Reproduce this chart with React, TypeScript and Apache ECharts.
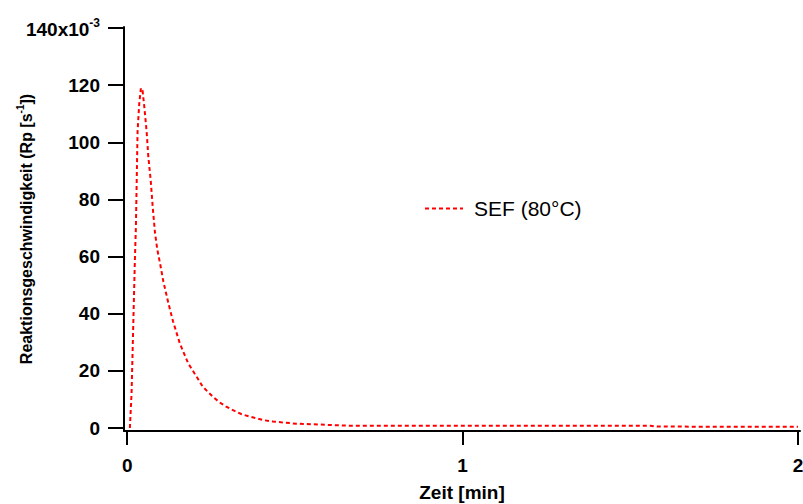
import React, { useEffect, useRef } from "react";
import * as echarts from "echarts";

// Zeit in Minuten
const timeMin = [
  0.008, 0.013, 0.018, 0.023, 0.026, 0.031, 0.036, 0.041, 0.046, 0.051,
  0.058, 0.063, 0.07, 0.076, 0.083, 0.09, 0.098, 0.108, 0.123, 0.137,
  0.157, 0.182, 0.21, 0.225, 0.24, 0.255, 0.275, 0.295, 0.32, 0.34,
  0.362, 0.385, 0.409, 0.434, 0.459, 0.504, 0.554, 0.604, 0.663, 0.8,
  1.0, 1.2, 1.4, 1.56, 1.58, 1.8, 2.0,
];

// Reaktionsgeschwindigkeit Rp in s^-1 (SEF, 80 °C)
const rateSEF80 = [
  0.0, 0.012, 0.0355, 0.059, 0.0705, 0.104, 0.1136, 0.119, 0.118, 0.1125,
  0.1037, 0.095, 0.0868, 0.0775, 0.0682, 0.0623, 0.0576, 0.0512, 0.0436, 0.0372,
  0.0296, 0.0226, 0.0174, 0.0145, 0.0127, 0.011, 0.009, 0.0075, 0.006, 0.0049,
  0.0041, 0.0034, 0.0027, 0.0023, 0.002, 0.0015, 0.0013, 0.00105, 0.0008, 0.0008,
  0.0008, 0.0008, 0.0008, 0.0008, 0.0005, 0.00045, 0.0004,
];

const xTicks = [0, 1, 2];
const yTicks = [0, 0.02, 0.04, 0.06, 0.08, 0.1, 0.12, 0.14];

const seriesName = "SEF (80°C)";
const FONT = '"Liberation Sans", Arial, Helvetica, sans-serif';

export default function App() {
  const ref = useRef<HTMLDivElement>(null);

  useEffect(() => {
    if (!ref.current) return;
    const chart = echarts.init(ref.current, null, { renderer: "svg" });

    const data = timeMin.map((t, i) => [t, rateSEF80[i]]);

    chart.setOption({
      animation: false,
      backgroundColor: "#ffffff",
      grid: {
        left: 124,
        right: 3,
        top: 27,
        bottom: 73,
        containLabel: false,
        outerBoundsMode: "none",
      },
      legend: {
        left: 424,
        top: 198,
        padding: 0,
        itemWidth: 38,
        itemHeight: 14,
        data: [seriesName],
        // only the dashed line sample, no marker
        itemStyle: { opacity: 0, borderWidth: 0 },
        textStyle: {
          fontFamily: FONT,
          fontSize: 21,
          color: "#000",
          padding: [0, 0, 0, 6],
        },
      },
      xAxis: {
        type: "value",
        min: -0.0095,
        max: 2.006,
        name: "Zeit [min]",
        nameLocation: "middle",
        nameGap: 52,
        nameMoveOverlap: false,
        nameTextStyle: {
          fontFamily: FONT,
          fontSize: 19,
          fontWeight: "bold",
          color: "#000",
        },
        splitLine: { show: false },
        axisLine: { onZero: false, lineStyle: { color: "#000", width: 2 } },
        axisTick: {
          show: true,
          length: 14,
          customValues: xTicks,
          lineStyle: { color: "#000", width: 2 },
        },
        axisLabel: {
          customValues: xTicks,
          margin: 25,
          fontFamily: FONT,
          fontSize: 19,
          fontWeight: "bold",
          color: "#000",
          formatter: (v: number) => String(Math.round(v)),
        },
      },
      yAxis: {
        type: "value",
        min: -0.00105,
        max: 0.14035,
        name: "{b|Reaktionsgeschwindigkeit (Rp [s}{sup|-1}{b|])}",
        nameLocation: "middle",
        nameGap: 90,
        nameMoveOverlap: false,
        nameTextStyle: {
          fontFamily: FONT,
          fontSize: 16,
          fontWeight: "bold",
          color: "#000",
          rich: {
            b: {
              fontFamily: FONT,
              fontSize: 16,
              fontWeight: "bold",
              color: "#000",
              verticalAlign: "bottom",
            },
            sup: {
              fontFamily: FONT,
              fontSize: 10,
              fontWeight: "bold",
              color: "#000",
              verticalAlign: "bottom",
              padding: [0, 0, 9, 0],
            },
          },
        },
        splitLine: { show: false },
        axisLine: { onZero: false, lineStyle: { color: "#000", width: 2 } },
        axisTick: {
          show: true,
          length: 16,
          customValues: yTicks,
          lineStyle: { color: "#000", width: 2 },
        },
        axisLabel: {
          customValues: yTicks,
          margin: 24,
          color: "#000",
          formatter: (v: number) => {
            const n = Math.round(v * 1000);
            return n === 140 ? "{b|140x10}{sup|-3}" : "{b|" + n + "}";
          },
          rich: {
            b: {
              fontFamily: FONT,
              fontSize: 19,
              fontWeight: "bold",
              color: "#000",
              verticalAlign: "bottom",
            },
            sup: {
              fontFamily: FONT,
              fontSize: 12,
              fontWeight: "bold",
              color: "#000",
              verticalAlign: "bottom",
              padding: [0, 0, 10, 0],
            },
          },
        },
      },
      series: [
        {
          name: seriesName,
          type: "line",
          data,
          symbol: "none",
          smooth: false,
          lineStyle: { color: "#ff0000", width: 2, type: [4, 3] },
          itemStyle: { color: "#ff0000" },
        },
      ],
    });

    return () => chart.dispose();
  }, []);

  return (
    <div
      ref={ref}
      style={{ position: "fixed", left: 0, top: 0, width: 803, height: 504 }}
    />
  );
}
